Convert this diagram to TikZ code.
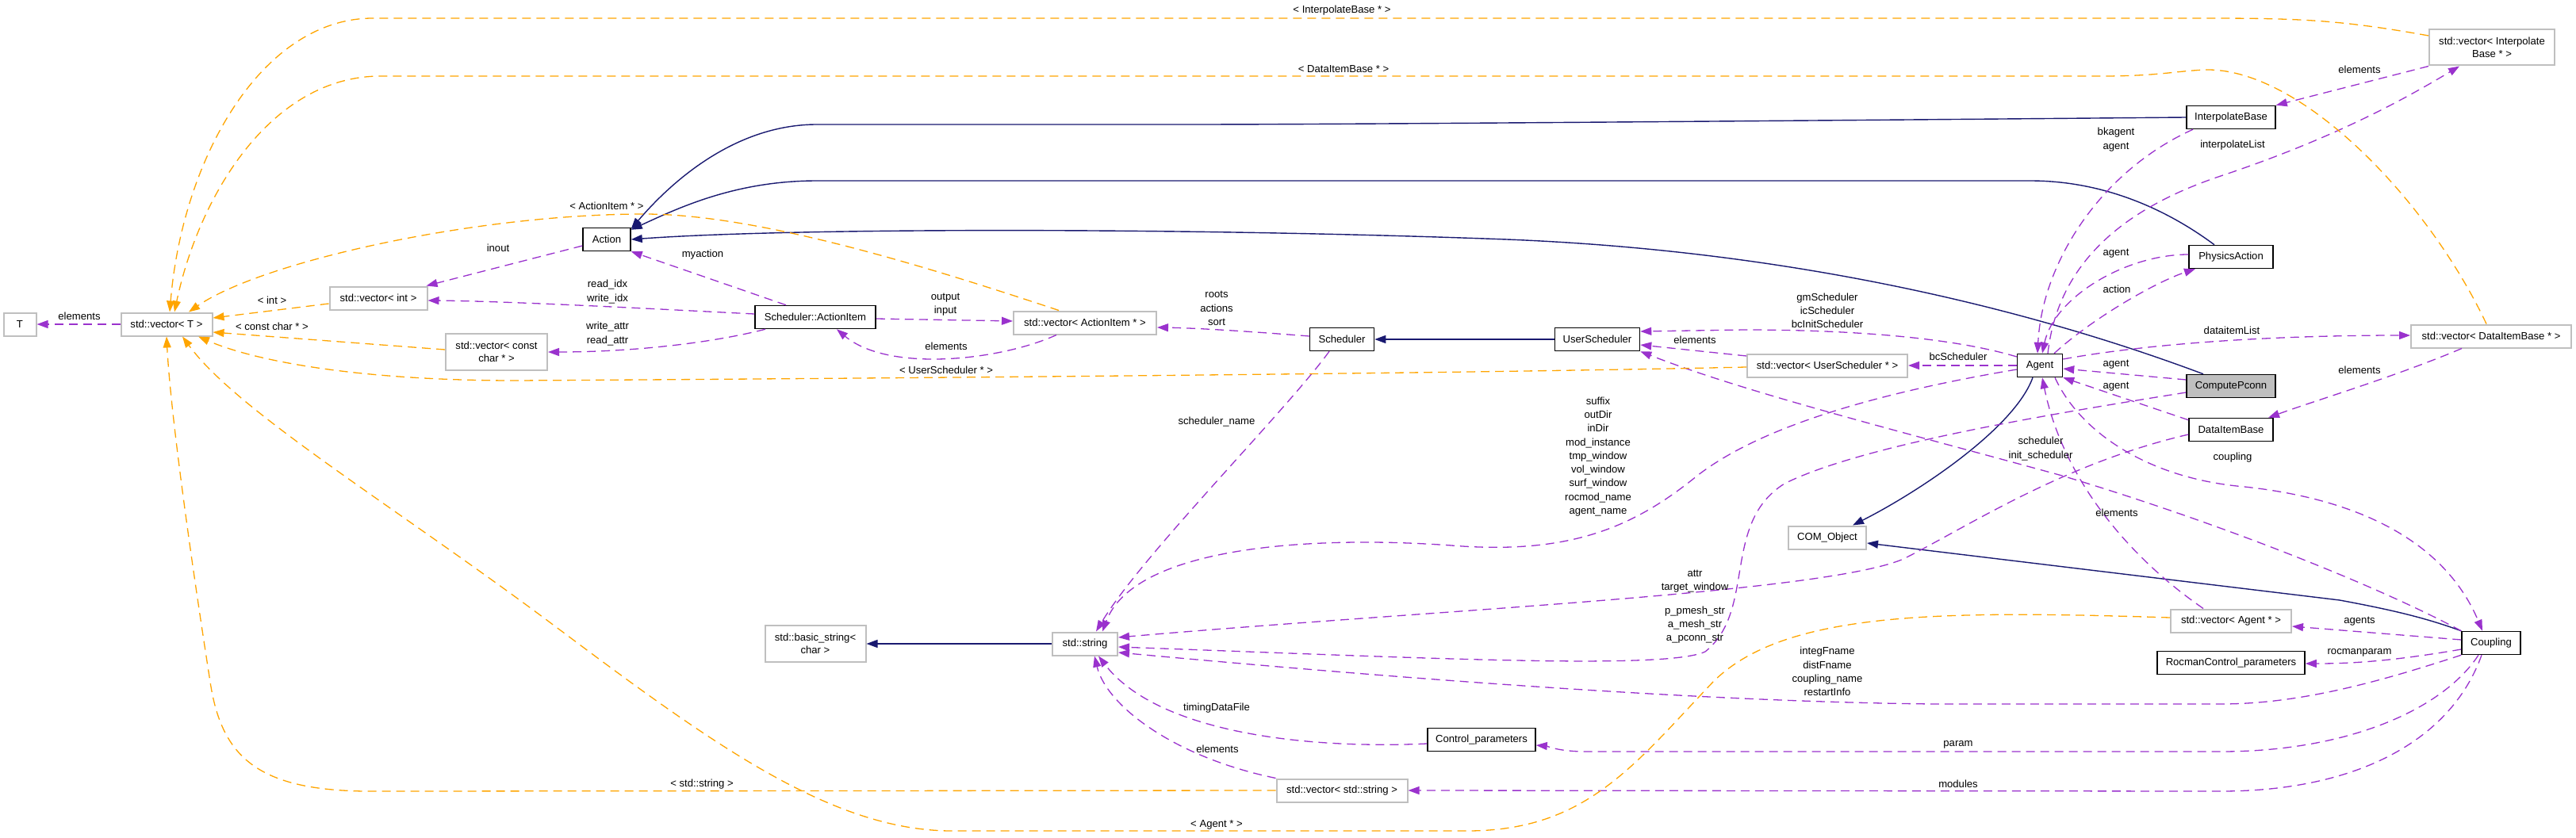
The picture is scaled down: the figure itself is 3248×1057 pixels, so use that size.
\documentclass[tikz,border=0pt]{standalone}
\usepackage{fontspec}
\setmainfont{Liberation Sans}
\usetikzlibrary{arrows.meta}

\definecolor{inhblue}{HTML}{191970}
\definecolor{usepurple}{HTML}{9A32CD}
\definecolor{tplorange}{HTML}{FFA500}
\definecolor{extgrey}{HTML}{BFBFBF}

\tikzset{
	clsbox/.style={draw=black, line width=1.5pt, fill=white, minimum height=29pt, inner xsep=2pt, inner ysep=2pt, align=center, font=\fontsize{13.1}{16.5}\selectfont},
	extbox/.style={clsbox, draw=extgrey, line width=2pt},
	edgelbl/.style={inner sep=0pt, align=center, font=\fontsize{13.1}{17.3}\selectfont},
	inhedge/.style={draw=inhblue, line width=1.4pt, -{Triangle[length=14pt,width=10pt]}},
	useedge/.style={draw=usepurple, line width=1.3pt, dash pattern=on 11pt off 7pt, -{Triangle[length=14pt,width=10pt]}},
	tpledge/.style={useedge, draw=tplorange},
}

\begin{document}
\begin{tikzpicture}[x=1pt, y=-1pt]
			%%%%% START %%%%%
			\useasboundingbox (0,0) rectangle (3248,1057);
			
			% classes
			\node[extbox, minimum width=41] (T) at (25,409) {T};
			\node[extbox, minimum width=115] (vecT) at (210,409) {std::vector< T >};
			\node[extbox, minimum width=123] (vecInt) at (477,376) {std::vector< int >};
			\node[extbox, minimum width=128, minimum height=46] (vecChar) at (626,444) {std::vector< const\\char * >};
			\node[clsbox, minimum width=60] (Action) at (765,302) {Action};
			\node[clsbox, minimum width=152] (ActionItem) at (1028,400) {Scheduler::ActionItem};
			\node[extbox, minimum width=180] (vecAI) at (1368,407) {std::vector< ActionItem * >};
			\node[clsbox, minimum width=81] (Scheduler) at (1692,428) {Scheduler};
			\node[clsbox, minimum width=107] (UserSched) at (2014,428) {UserScheduler};
			\node[extbox, minimum width=202] (vecUS) at (2304,461) {std::vector< UserScheduler * >};
			\node[extbox, minimum width=98] (COMObj) at (2304,678) {COM\_Object};
			\node[clsbox, minimum width=57] (Agent) at (2572,461) {Agent};
			\node[clsbox, minimum width=112] (InterpBase) at (2813,148) {InterpolateBase};
			\node[clsbox, minimum width=106] (PhysAction) at (2813,324) {PhysicsAction};
			\node[clsbox, minimum width=112, fill=extgrey] (ComputePconn) at (2813,487) {ComputePconn};
			\node[clsbox, minimum width=106] (DataItemBase) at (2813,542) {DataItemBase};
			\node[extbox, minimum width=158, minimum height=45] (vecIB) at (3142,60) {std::vector< Interpolate\\Base * >};
			\node[extbox, minimum width=202] (vecDIB) at (3141,424) {std::vector< DataItemBase * >};
			\node[extbox, minimum width=152] (vecAgent) at (2813,783) {std::vector< Agent * >};
			\node[clsbox, minimum width=186] (Rocman) at (2813,836) {RocmanControl\_parameters};
			\node[clsbox, minimum width=74] (Coupling) at (3141,811) {Coupling};
			\node[extbox, minimum width=127, minimum height=46] (basicStr) at (1028,812) {std::basic\_string<\\char >};
			\node[extbox, minimum width=82] (string) at (1368,812) {std::string};
			\node[clsbox, minimum width=136] (ControlP) at (1868,933) {Control\_parameters};
			\node[extbox, minimum width=165] (vecStr) at (1692,997) {std::vector< std::string >};
			
			% inheritance
			\draw[inhedge] (InterpBase.west) .. controls (2300,152) and (1700,157) .. (1500,157) -- (1030,157) .. controls (930,157) and (850,225) .. ([yshift=-2pt]Action.north east);
			\draw[inhedge] ([xshift=-21pt]PhysAction.north) .. controls (2740,270) and (2660,228) .. (2560,228) -- (1030,228) .. controls (930,228) and (860,260) .. ([yshift=-3pt]Action.north east);
			\draw[inhedge] ([xshift=-35pt]ComputePconn.north) .. controls (2600,405) and (2300,318) .. (1900,302) .. controls (1500,287) and (1000,287) .. (Action.east);
			\draw[inhedge] ([xshift=-9pt]Agent.south) .. controls (2540,540) and (2420,620) .. ([xshift=32pt]COMObj.north);
			\draw[inhedge] (Coupling.north west) .. controls (3060,780) and (3020,770) .. (2950,757) -- ([yshift=-7pt]COMObj.east);
			\draw[inhedge] (UserSched.west) -- (Scheduler.east);
			\draw[inhedge] (string.west) -- (basicStr.east);
			
			% members
			\draw[useedge] (vecT.west) -- (T.east);
			\draw[useedge] ([yshift=-8pt]Action.west) -- ([xshift=-2pt]vecInt.north east);
			\draw[useedge] ([xshift=-37pt]ActionItem.north) -- (Action.south east);
			\draw[useedge] ([yshift=4pt]ActionItem.west) .. controls (850,391) and (650,380) .. ([yshift=-3pt]vecInt.east);
			\draw[useedge] ([xshift=-63pt]ActionItem.south) .. controls (900,432) and (800,444) .. (vecChar.east);
			\draw[useedge] ([yshift=-2pt]ActionItem.east) -- ([yshift=2pt]vecAI.west);
			\draw[useedge] ([xshift=-36pt]vecAI.south) .. controls (1260,455) and (1120,470) .. ([xshift=27pt]ActionItem.south);
			\draw[useedge] ([yshift=4pt]Scheduler.west) .. controls (1600,420) and (1520,414) .. ([yshift=-6pt]vecAI.east);
			\draw[useedge] ([xshift=-16pt]Scheduler.south) .. controls (1620,520) and (1440,700) .. ([xshift=14pt]string.north);
			\draw[useedge] ([yshift=11pt]Agent.west) .. controls (2470,428) and (2350,416) .. (2200,416) -- ([yshift=10pt]UserSched.east);
			\draw[useedge] ([yshift=12pt]vecUS.west) -- ([yshift=-7pt]UserSched.east);
			\draw[useedge] (Agent.west) -- (vecUS.east);
			\draw[useedge] (Coupling.north west) .. controls (3000,740) and (2800,660) .. (2600,600) .. controls (2400,545) and (2200,495) .. (UserSched.south east);
			\draw[useedge] ([xshift=-35pt]vecAgent.north) .. controls (2680,700) and (2600,600) .. ([xshift=3pt]Agent.south);
			\draw[useedge] ([yshift=8pt]Agent.east) .. controls (2700,435) and (2850,423) .. ([yshift=1pt]vecDIB.west);
			\draw[useedge] ([xshift=-37pt]vecDIB.south) .. controls (3020,475) and (2920,505) .. ([xshift=47pt]DataItemBase.north);
			\draw[useedge] ([yshift=8pt]ComputePconn.west) -- ([yshift=-4pt]Agent.east);
			\draw[useedge] ([yshift=-3pt]DataItemBase.north west) -- (Agent.south east);
			\draw[useedge] ([xshift=-48pt]InterpBase.south) .. controls (2650,215) and (2575,330) .. ([xshift=-3pt]Agent.north);
			\draw[useedge] ([yshift=3pt]PhysAction.west) .. controls (2680,321) and (2590,375) .. ([xshift=3pt]Agent.north);
			\draw[useedge] ([xshift=18pt]Agent.north) .. controls (2640,400) and (2720,355) .. ([xshift=-45pt]PhysAction.south);
			\draw[useedge] ([xshift=10pt]Agent.north) .. controls (2595,330) and (2680,262) .. (2800,222) .. controls (2950,172) and (3040,120) .. ([xshift=-41pt]vecIB.south);
			\draw[useedge] (vecIB.south west) -- (InterpBase.north east);
			\draw[useedge] ([yshift=-5pt]Agent.west) .. controls (2400,490) and (2230,530) .. (2140,600) .. controls (2060,665) and (1980,700) .. (1830,688) .. controls (1650,675) and (1430,690) .. ([xshift=22pt]string.north);
			\draw[useedge] ([yshift=-8pt]ComputePconn.west) .. controls (2600,520) and (2350,560) .. (2250,610) .. controls (2170,660) and (2215,770) .. (2150,822) .. controls (2100,845) and (1800,830) .. ([yshift=-4pt]string.east);
			\draw[useedge] ([yshift=-6pt]DataItemBase.west) .. controls (2600,585) and (2480,665) .. (2400,705) .. controls (2300,748) and (1800,770) .. ([yshift=8pt]string.east);
			\draw[useedge] (Coupling.south west) .. controls (3000,860) and (2900,888) .. (2800,888) -- (2440,888) .. controls (2100,885) and (1650,845) .. ([yshift=-11pt]string.east);
			\draw[useedge] ([xshift=-16pt]Coupling.south) .. controls (3080,895) and (2960,948) .. (2800,948) -- (2000,948) .. controls (1965,948) and (1950,941) .. ([yshift=-7pt]ControlP.east);
			\draw[useedge] ([xshift=-12pt]Coupling.south) .. controls (3090,935) and (2970,998) .. (2800,998) -- (vecStr.east);
			\draw[useedge] ([yshift=4pt]Coupling.west) -- ([yshift=-7pt]vecAgent.east);
			\draw[useedge] ([yshift=-8pt]Coupling.west) .. controls (3010,835) and (2960,837) .. ([yshift=-1pt]Rocman.east);
			\draw[useedge] ([xshift=19pt]Agent.south) .. controls (2620,540) and (2700,600) .. (2820,613) .. controls (3000,630) and (3090,700) .. ([xshift=-11pt]Coupling.north);
			\draw[useedge] ([yshift=-5pt]ControlP.west) .. controls (1650,945) and (1460,925) .. ([xshift=17pt]string.south);
			\draw[useedge] (vecStr.north west) .. controls (1480,955) and (1395,890) .. ([xshift=12pt]string.south);
			
			% template instances
			\draw[tpledge] ([yshift=15pt]vecIB.west) .. controls (2950,25) and (2900,23) .. (2780,23) -- (470,23) .. controls (330,23) and (230,200) .. ([xshift=4pt]vecT.north);
			\draw[tpledge] ([xshift=-6pt]vecDIB.north) .. controls (3060,250) and (2900,85) .. (2780,88) .. controls (2740,90) and (2720,96) .. (2650,96) -- (480,96) .. controls (340,96) and (250,250) .. ([xshift=10pt]vecT.north);
			\draw[tpledge] ([xshift=-33pt]vecAI.north) .. controls (1150,330) and (950,270) .. (812,270) .. controls (600,270) and (330,330) .. ([xshift=28pt]vecT.north);
			\draw[tpledge] ([yshift=-7pt]vecInt.west) -- ([yshift=8pt]vecT.east);
			\draw[tpledge] ([yshift=3pt]vecChar.west) -- ([yshift=-10pt]vecT.east);
			\draw[tpledge] ([yshift=-2pt]vecUS.west) .. controls (1800,472) and (1000,478) .. (650,480) .. controls (450,480) and (320,455) .. ([xshift=40pt]vecT.south);
			\draw[tpledge] (vecStr.west) -- (480,998) .. controls (330,1000) and (280,960) .. (265,860) .. controls (240,700) and (215,520) .. (vecT.south);
			\draw[tpledge] ([yshift=4pt]vecAgent.west) .. controls (2450,770) and (2250,770) .. (2160,860) .. controls (2060,965) and (2000,1048) .. (1850,1048) -- (1200,1048) .. controls (1050,1048) and (900,940) .. (700,790) .. controls (500,640) and (300,520) .. ([xshift=20pt]vecT.south);
			
			% labels
			\node[edgelbl] (lTElem) at (100,399) {elements};
			\node[edgelbl] (lInt) at (343,379) {< int >};
			\node[edgelbl] (lChar) at (343,412) {< const char * >};
			\node[edgelbl] (lInout) at (628,313) {inout};
			\node[edgelbl] (lMyaction) at (886,321) {myaction};
			\node[edgelbl] (lIdx) at (766,368) {read\_idx\\write\_idx};
			\node[edgelbl] (lAttr) at (766,421) {write\_attr\\read\_attr};
			\node[edgelbl] (lOutIn) at (1192,384) {output\\input};
			\node[edgelbl] (lAIElem) at (1193,437) {elements};
			\node[edgelbl] (lUSTpl) at (1193,467) {< UserScheduler * >};
			\node[edgelbl] (lRoots) at (1534,389) {roots\\actions\\sort};
			\node[edgelbl] (lSchedName) at (1534,532) {scheduler\_name};
			\node[edgelbl] (lGm) at (2304,392) {gmScheduler\\icScheduler\\bcInitScheduler};
			\node[edgelbl] (lUSElem) at (2137,429) {elements};
			\node[edgelbl] (lBc) at (2469,450) {bcScheduler};
			\node[edgelbl] (lSuffix) at (2015,576) {suffix\\outDir\\inDir\\mod\_instance\\tmp\_window\\vol\_window\\surf\_window\\rocmod\_name\\agent\_name};
			\node[edgelbl] (lBk) at (2668,176) {bkagent\\agent};
			\node[edgelbl] (lIList) at (2815,183) {interpolateList};
			\node[edgelbl] (lIBElem) at (2975,88) {elements};
			\node[edgelbl] (lPAAgent) at (2668,320) {agent};
			\node[edgelbl] (lAction) at (2669,365) {action};
			\node[edgelbl] (lDIList) at (2814,417) {dataitemList};
			\node[edgelbl] (lCPAgent) at (2668,460) {agent};
			\node[edgelbl] (lDIAgent) at (2668,488) {agent};
			\node[edgelbl] (lDIBElem) at (2975,467) {elements};
			\node[edgelbl] (lSched) at (2573,566) {scheduler\\init\_scheduler};
			\node[edgelbl] (lCoupling) at (2815,577) {coupling};
			\node[edgelbl] (lAgElem) at (2669,647) {elements};
			\node[edgelbl] (lTarget) at (2137,733) {attr\\target\_window};
			\node[edgelbl] (lMeshStr) at (2137,788) {p\_pmesh\_str\\a\_mesh\_str\\a\_pconn\_str};
			\node[edgelbl] (lInteg) at (2304,847) {integFname\\distFname\\coupling\_name\\restartInfo};
			\node[edgelbl] (lAgents) at (2975,784) {agents};
			\node[edgelbl] (lRocman) at (2975,823) {rocmanparam};
			\node[edgelbl] (lTiming) at (1534,893) {timingDataFile};
			\node[edgelbl] (lStrElem) at (1535,945) {elements};
			\node[edgelbl] (lParam) at (2469,939) {param};
			\node[edgelbl] (lModules) at (2469,989) {modules};
			\node[edgelbl] (lStrTpl) at (885,989) {< std::string >};
			\node[edgelbl] (lAgTpl) at (1534,1040) {< Agent * >};
			\node[edgelbl] (lIBTpl) at (1692,13) {< InterpolateBase * >};
			\node[edgelbl] (lDIBTpl) at (1694,87) {< DataItemBase * >};
			\node[edgelbl] (lAITpl) at (765,260) {< ActionItem * >};
			
			%%%%% END %%%%%
\end{tikzpicture}
\end{document}
